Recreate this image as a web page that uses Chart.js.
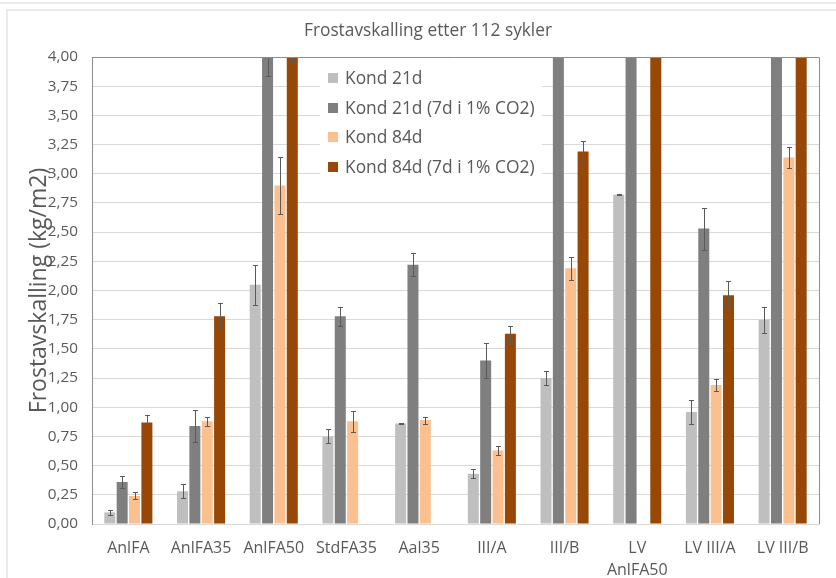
<!DOCTYPE html>
<html>
<head>
<meta charset="utf-8">
<script src="https://cdn.jsdelivr.net/npm/chart.js@4/dist/chart.umd.min.js"></script>
<style>
html,body{margin:0;padding:0;background:#fff;}
#wrap{position:relative;width:836px;height:578px;}
</style>
</head>
<body>
<div id="wrap"><canvas id="c" width="836" height="578"></canvas></div>
<script>
const chartTitle = 'Frostavskalling etter 112 sykler';
const categories = ['AnlFA','AnlFA35','AnlFA50','StdFA35','Aal35','III/A','III/B',['LV','AnlFA50'],'LV III/A','LV III/B'];
const seriesNames = ['Kond 21d','Kond 21d (7d i 1% CO2)','Kond 84d','Kond 84d (7d i 1% CO2)'];
const kond21      = [0.10, 0.28, 2.05, 0.75, 0.86, 0.43, 1.25, 2.82, 0.96, 1.75];
const kond21Err   = [0.02, 0.06, 0.17, 0.06, 0.003, 0.04, 0.06, 0.003, 0.10, 0.11];
const kond21Co2   = [0.36, 0.84, 4.10, 1.78, 2.22, 1.40, 4.20, 4.20, 2.53, 4.20];
const kond21Co2Err= [0.05, 0.14, 0.26, 0.08, 0.10, 0.15, null, null, 0.18, null];
const kond84      = [0.24, 0.88, 2.90, 0.88, 0.89, 0.63, 2.19, null, 1.19, 3.14];
const kond84Err   = [0.03, 0.04, 0.245, 0.09, 0.03, 0.04, 0.10, null, 0.05, 0.09];
const kond84Co2   = [0.87, 1.78, 4.30, null, null, 1.63, 3.19, 4.20, 1.96, 4.20];
const kond84Co2Err= [0.06, 0.11, 0.34, null, null, 0.07, 0.09, null, 0.12, null];
const yTickLabels = ['0,00','0,25','0,50','0,75','1,00','1,25','1,50','1,75','2,00','2,25','2,50','2,75','3,00','3,25','3,50','3,75','4,00'];
const colors = ['#BFBFBF','#7F7F7F','#FAC090','#974806'];

const TEXT = '#595959';
const FONT = '"Open Sans", "DejaVu Sans", sans-serif';

const frame = {
  id: 'frame',
  beforeDraw(chart) {
    const ctx = chart.ctx;
    ctx.save();
    ctx.fillStyle = '#fff';
    ctx.fillRect(0, 0, chart.width, chart.height);
    ctx.strokeStyle = '#ebebeb';
    ctx.lineWidth = 2;
    ctx.beginPath();
    ctx.moveTo(0, 3); ctx.lineTo(chart.width, 3);
    ctx.moveTo(7, chart.height); ctx.lineTo(7, 10); ctx.lineTo(chart.width, 10);
    ctx.stroke();
    ctx.fillStyle = TEXT;
    ctx.font = '17.3px ' + FONT;
    ctx.textAlign = 'center';
    ctx.textBaseline = 'middle';
    ctx.fillText(chartTitle, 428, 31);
    ctx.restore();
  }
};

const errorBars = {
  id: 'errorBars',
  afterDatasetsDraw(chart) {
    const ctx = chart.ctx, a = chart.chartArea, ys = chart.scales.y;
    ctx.save();
    ctx.beginPath();
    ctx.rect(a.left, a.top, a.right - a.left, a.bottom - a.top);
    ctx.clip();
    ctx.strokeStyle = '#5a5a5a';
    ctx.lineWidth = 1;
    chart.data.datasets.forEach((ds, di) => {
      const meta = chart.getDatasetMeta(di);
      meta.data.forEach((bar, i) => {
        const v = ds.data[i], e = ds.errors[i];
        if (v == null || e == null) return;
        const x = Math.round(bar.x) + 0.5;
        const y1 = Math.round(ys.getPixelForValue(v + e)) + 0.5;
        const y2 = Math.round(ys.getPixelForValue(v - e)) + 0.5;
        ctx.beginPath();
        ctx.moveTo(x, y1); ctx.lineTo(x, y2);
        ctx.moveTo(x - 2.5, y1); ctx.lineTo(x + 2.5, y1);
        ctx.moveTo(x - 2.5, y2); ctx.lineTo(x + 2.5, y2);
        ctx.stroke();
      });
    });
    ctx.restore();
    ctx.save();
    ctx.strokeStyle = '#8c8c8c';
    ctx.lineWidth = 1;
    ctx.beginPath();
    ctx.moveTo(a.left, Math.round(a.top) + 0.5);
    ctx.lineTo(Math.round(a.right) + 0.5, Math.round(a.top) + 0.5);
    ctx.lineTo(Math.round(a.right) + 0.5, a.bottom);
    ctx.stroke();
    ctx.restore();
  }
};

const legendBox = {
  id: 'legendBox',
  afterDatasetsDraw(chart) {
    const ctx = chart.ctx;
    ctx.save();
    ctx.fillStyle = '#fff';
    ctx.fillRect(320, 63, 222, 120);
    ctx.font = '17.4px ' + FONT;
    ctx.textBaseline = 'middle';
    ctx.textAlign = 'left';
    chart.data.datasets.forEach((ds, i) => {
      const cy = 78 + i * 29.6;
      ctx.fillStyle = ds.backgroundColor;
      ctx.fillRect(328, Math.round(cy - 5), 10, 10);
      ctx.fillStyle = TEXT;
      ctx.fillText(ds.label, 345, cy + 1);
    });
    ctx.restore();
  }
};

const seriesData = [kond21, kond21Co2, kond84, kond84Co2];
const seriesErr = [kond21Err, kond21Co2Err, kond84Err, kond84Co2Err];

new Chart(document.getElementById('c'), {
  type: 'bar',
  data: {
    labels: categories,
    datasets: seriesNames.map((n, i) => ({
      label: n,
      data: seriesData[i],
      errors: seriesErr[i],
      backgroundColor: colors[i],
      borderWidth: 0,
      categoryPercentage: 0.68,
      barPercentage: 0.89
    }))
  },
  options: {
    responsive: false,
    animation: false,
    devicePixelRatio: 1,
    layout: { padding: { left: 0, right: 17, top: 57, bottom: 0 } },
    plugins: {
      legend: { display: false },
      tooltip: { enabled: false },
      title: { display: false }
    },
    scales: {
      x: {
        grid: { display: false, drawTicks: false },
        border: { display: true, color: '#d9d9d9' },
        ticks: { color: TEXT, font: { family: FONT, size: 16, lineHeight: 1.35 }, padding: 14, maxRotation: 0, autoSkip: false },
        afterFit(s) { s.height = 54; }
      },
      y: {
        min: 0, max: 4,
        grid: { color: '#d9d9d9', drawTicks: false },
        border: { display: true, color: '#8c8c8c' },
        ticks: {
          stepSize: 0.25, color: TEXT, padding: 14,
          font: { family: FONT, size: 15.3 },
          callback: (v, i) => yTickLabels[i]
        },
        title: {
          display: true,
          text: 'Frostavskalling (kg/m2)',
          color: TEXT,
          font: { family: FONT, size: 23 },
          padding: { top: 26, bottom: 0 }
        },
        afterFit(s) { s.width = 92; }
      }
    }
  },
  plugins: [frame, errorBars, legendBox]
});
</script>
</body>
</html>
